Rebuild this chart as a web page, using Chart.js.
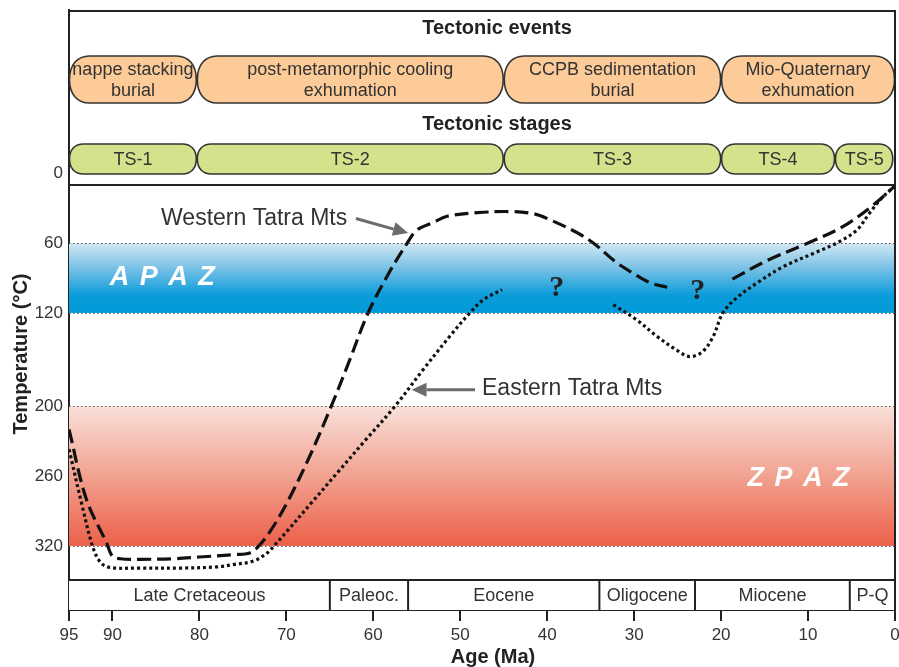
<!DOCTYPE html>
<html>
<head>
<meta charset="utf-8">
<script src="https://cdn.jsdelivr.net/npm/chart.js@4.4.1/dist/chart.umd.min.js"></script>
<style>
  html, body { margin: 0; padding: 0; background: #fff; }
  #wrap { width: 899px; height: 667px; position: relative; }
</style>
</head>
<body>
<div id="wrap"><canvas id="c" width="899" height="667"></canvas></div>
<script>
// ---------------- DATA ----------------
const xTicks = [95, 90, 80, 70, 60, 50, 40, 30, 20, 10, 0];
const yTicks = [0, 60, 120, 200, 260, 320];

// Western Tatra Mts (dashed) – [age Ma, temperature °C]
const westernEarly = [
  [95,220],[93,280],[90.7,317],[90,329],[89.1,331],[86.8,331.5],[83,331],[80,329.5],[76,327.5],[74.2,326],
  [73.3,321],[72,309],[70,284],[67.5,246],[65,203],[62.8,162],[60.6,120],[58.3,87],[56.1,60],
  [55,49],[53,42],[51.5,37],[48,34],[44.3,33],[41.5,35],[39.7,40],[36.6,51],[34.7,60],[32,77],
  [30.1,86],[28.2,94],[26.2,98]
];
const westernLate = [
  [18.7,91],[14.7,75],[10,60],[6,46],[2.6,28],[0,11]
];
// Eastern Tatra Mts (dotted)
const easternEarly = [
  [95,237],[93.5,285],[92.3,320],[91.4,334],[90.3,338.5],[87,339],[82,339],[78,338],[76.1,336],
  [73.8,333],[72.2,326],[71.3,319],[70,308],[67,282],[64,256],[61,230],[57.5,200],[54.3,169],[51.2,140],
  [48.9,120],[47.4,109],[45.2,100]
];
const easternLate = [
  [32.4,113],[29.7,126],[27.4,140],[25.1,152],[23.6,157.5],[22.1,153],[20.9,140],[19.8,120],
  [18.2,107],[15.9,94.5],[12.9,80.5],[9,67.7],[6.7,60],[4.4,49],[2.9,34],[1.4,20.5],[0,11]
];

// Partial annealing / retention zones [from, to] °C
const apazRange = [60, 120];
const zpazRange = [200, 320];

// Header rows
const eventLabels = [['nappe stacking','burial'],['post-metamorphic cooling','exhumation'],['CCPB sedimentation','burial'],['Mio-Quaternary','exhumation']];
const eventBounds = [95, 80.3, 45, 20, 0];
const stageLabels = ['TS-1','TS-2','TS-3','TS-4','TS-5'];
const stageBounds = [95, 80.3, 45, 20, 6.9, 0.2];
// Epochs
const epochLabels = ['Late Cretaceous','Paleoc.','Eocene','Oligocene','Miocene','P-Q'];
const epochBounds = [95, 65, 56, 34, 23, 5.2, 0];

// ---------------- DRAWING ----------------
const FONT = "'Liberation Sans', Arial, Helvetica, sans-serif";
const toPts = a => a.map(p => ({x: p[0], y: p[1]}));

function capsule(ctx, x0, x1, top, bot, rx) {
  const cy = (top + bot) / 2, k = 0.62;
  const ry = cy - top;
  ctx.beginPath();
  ctx.moveTo(x0 + rx, top);
  ctx.lineTo(x1 - rx, top);
  ctx.bezierCurveTo(x1 - rx + rx * k, top, x1, cy - ry * k, x1, cy);
  ctx.bezierCurveTo(x1, cy + ry * k, x1 - rx + rx * k, bot, x1 - rx, bot);
  ctx.lineTo(x0 + rx, bot);
  ctx.bezierCurveTo(x0 + rx - rx * k, bot, x0, cy + ry * k, x0, cy);
  ctx.bezierCurveTo(x0, cy - ry * k, x0 + rx - rx * k, top, x0 + rx, top);
  ctx.closePath();
}

function arrow(ctx, x0, y0, x1, y1) {
  const ang = Math.atan2(y1 - y0, x1 - x0);
  const hl = 15, hw = 7;
  const bx = x1 - hl * Math.cos(ang), by = y1 - hl * Math.sin(ang);
  ctx.save();
  ctx.strokeStyle = '#6b6b6b'; ctx.fillStyle = '#6b6b6b'; ctx.lineWidth = 3;
  ctx.beginPath(); ctx.moveTo(x0, y0); ctx.lineTo(bx, by); ctx.stroke();
  ctx.beginPath();
  ctx.moveTo(x1, y1);
  ctx.lineTo(bx + hw * Math.sin(ang), by - hw * Math.cos(ang));
  ctx.lineTo(bx - hw * Math.sin(ang), by + hw * Math.cos(ang));
  ctx.closePath(); ctx.fill();
  ctx.restore();
}

const decor = {
  id: 'decor',
  beforeDraw(chart) {
    const ctx = chart.ctx;
    ctx.save(); ctx.fillStyle = '#fff'; ctx.fillRect(0, 0, chart.width, chart.height); ctx.restore();
  },
  beforeDatasetsDraw(chart) {
    const {ctx, chartArea: ca, scales: {x, y}} = chart;
    ctx.save();
    // zones
    const bands = [
      {r: apazRange, stops: [[0,'#d3e8f3'],[0.35,'#7cc2e6'],[0.75,'#0a9cda'],[1,'#009ad8']]},
      {r: zpazRange, stops: [[0,'#f9e0da'],[0.5,'#f2a290'],[1,'#ec604a']]}
    ];
    bands.forEach(b => {
      const t = y.getPixelForValue(b.r[0]), bt = y.getPixelForValue(b.r[1]);
      const g = ctx.createLinearGradient(0, t, 0, bt);
      b.stops.forEach(s => g.addColorStop(s[0], s[1]));
      ctx.fillStyle = g;
      ctx.fillRect(ca.left, t, ca.right - ca.left, bt - t);
    });
    // dotted boundary lines
    ctx.strokeStyle = '#555'; ctx.lineWidth = 1.2; ctx.setLineDash([1.5, 2.5]);
    [apazRange[0], apazRange[1], zpazRange[0], zpazRange[1]].forEach(v => {
      const py = Math.round(y.getPixelForValue(v)) + 0.5;
      ctx.beginPath(); ctx.moveTo(ca.left, py); ctx.lineTo(ca.right, py); ctx.stroke();
    });
    ctx.setLineDash([]);
    // zone labels
    ctx.fillStyle = '#fff';
    ctx.font = 'italic bold 27px ' + FONT;
    ctx.textAlign = 'center'; ctx.textBaseline = 'middle';
    if ('letterSpacing' in ctx) ctx.letterSpacing = '1.5px';
    ctx.fillText('A P A Z', x.getPixelForValue(84.2), y.getPixelForValue(90));
    ctx.fillText('Z P A Z', x.getPixelForValue(11.0), y.getPixelForValue(262));
    if ('letterSpacing' in ctx) ctx.letterSpacing = '0px';

    // header region
    const top = ca.top;
    ctx.fillStyle = '#222';
    ctx.font = 'bold 20px ' + FONT;
    ctx.fillText('Tectonic events', 497, top + 18);
    ctx.fillText('Tectonic stages', 497, top + 114);
    // events
    ctx.lineWidth = 1.6; ctx.strokeStyle = '#333';
    for (let i = 0; i < eventLabels.length; i++) {
      const x0 = x.getPixelForValue(eventBounds[i]), x1 = x.getPixelForValue(eventBounds[i + 1]);
      capsule(ctx, x0 + 0.5, x1 - 0.5, top + 46, top + 93, 20);
      ctx.fillStyle = '#fccb98'; ctx.fill(); ctx.stroke();
      ctx.fillStyle = '#333'; ctx.font = '18px ' + FONT;
      ctx.fillText(eventLabels[i][0], (x0 + x1) / 2, top + 60);
      ctx.fillText(eventLabels[i][1], (x0 + x1) / 2, top + 81);
    }
    // stages
    for (let i = 0; i < stageLabels.length; i++) {
      const x0 = x.getPixelForValue(stageBounds[i]), x1 = x.getPixelForValue(stageBounds[i + 1]);
      capsule(ctx, x0 + 0.5, x1 - 0.5, top + 134, top + 164, 14);
      ctx.fillStyle = '#d3e38b'; ctx.fill(); ctx.stroke();
      ctx.fillStyle = '#333'; ctx.font = '18px ' + FONT;
      ctx.fillText(stageLabels[i], (x0 + x1) / 2, top + 150);
    }
    // divider line
    ctx.strokeStyle = '#222'; ctx.lineWidth = 2;
    ctx.beginPath(); ctx.moveTo(ca.left, top + 175); ctx.lineTo(ca.right, top + 175); ctx.stroke();
    ctx.restore();
  },
  afterDatasetsDraw(chart) {
    const {ctx, chartArea: ca, scales: {x, y}} = chart;
    ctx.save();
    // epoch band
    const eTop = ca.bottom - 30;
    ctx.fillStyle = '#fff';
    ctx.fillRect(ca.left, eTop, ca.right - ca.left, 30);
    ctx.strokeStyle = '#222'; ctx.lineWidth = 2;
    ctx.beginPath(); ctx.moveTo(ca.left, eTop); ctx.lineTo(ca.right, eTop); ctx.stroke();
    ctx.fillStyle = '#333'; ctx.font = '18px ' + FONT; ctx.textAlign = 'center'; ctx.textBaseline = 'middle';
    for (let i = 0; i < epochLabels.length; i++) {
      const x0 = x.getPixelForValue(epochBounds[i]), x1 = x.getPixelForValue(epochBounds[i + 1]);
      if (i > 0) { ctx.beginPath(); ctx.moveTo(x0, eTop); ctx.lineTo(x0, ca.bottom); ctx.stroke(); }
      ctx.fillText(epochLabels[i], (x0 + x1) / 2, eTop + 16);
    }
    // frame
    ctx.beginPath();
    ctx.moveTo(ca.left, ca.top + 1); ctx.lineTo(ca.right, ca.top + 1); ctx.lineTo(ca.right, ca.bottom);
    ctx.stroke();
    // annotations
    ctx.fillStyle = '#333'; ctx.font = '23px ' + FONT; ctx.textBaseline = 'middle';
    ctx.textAlign = 'right';
    ctx.fillText('Western Tatra Mts', x.getPixelForValue(63.0), y.getPixelForValue(39));
    arrow(ctx, x.getPixelForValue(62.0), y.getPixelForValue(39), x.getPixelForValue(56.0), y.getPixelForValue(51.5));
    ctx.textAlign = 'left';
    ctx.fillText('Eastern Tatra Mts', x.getPixelForValue(47.5), y.getPixelForValue(185));
    arrow(ctx, x.getPixelForValue(48.3), y.getPixelForValue(186), x.getPixelForValue(55.6), y.getPixelForValue(186));
    // question marks
    ctx.fillStyle = '#222'; ctx.font = "bold 30px 'Liberation Serif', 'Times New Roman', serif"; ctx.textAlign = 'center';
    ctx.fillText('?', x.getPixelForValue(38.9), y.getPixelForValue(99));
    ctx.fillText('?', x.getPixelForValue(22.7), y.getPixelForValue(101));
    // axis titles
    ctx.fillStyle = '#222'; ctx.font = 'bold 20px ' + FONT;
    ctx.fillText('Age (Ma)', 493, 657);
    ctx.translate(21, 354); ctx.rotate(-Math.PI / 2);
    ctx.fillText('Temperature (°C)', 0, 0);
    ctx.restore();
  }
};

const lineStyle = (dash) => ({
  borderColor: '#111', borderWidth: 3.2, borderDash: dash, pointRadius: 0, tension: 0.35,
  fill: false, showLine: true, borderCapStyle: 'butt'
});

new Chart(document.getElementById('c'), {
  type: 'line',
  data: {
    datasets: [
      Object.assign({label: 'Western Tatra Mts', data: toPts(westernEarly)}, lineStyle([14, 6])),
      Object.assign({label: 'Western Tatra Mts ', data: toPts(westernLate)}, lineStyle([14, 6])),
      Object.assign({label: 'Eastern Tatra Mts', data: toPts(easternEarly)}, lineStyle([3, 3])),
      Object.assign({label: 'Eastern Tatra Mts ', data: toPts(easternLate)}, lineStyle([3, 3]))
    ]
  },
  options: {
    responsive: false, animation: false, devicePixelRatio: 1,
    layout: {padding: {top: 10, right: 4, left: 0, bottom: 0}},
    plugins: {legend: {display: false}, tooltip: {enabled: false}},
    scales: {
      x: {
        type: 'linear', reverse: true, min: 0, max: 95, position: 'bottom',
        afterFit: s => { s.height = 57; s.paddingLeft = 0; s.paddingRight = 0; },
        afterBuildTicks: s => { s.ticks = xTicks.map(v => ({value: v})); },
        ticks: {font: {family: FONT, size: 17}, color: '#333', padding: 4, maxRotation: 0, autoSkip: false},
        grid: {drawOnChartArea: false, drawTicks: true, tickLength: 11, color: '#222', lineWidth: 2},
        border: {display: true, color: '#222', width: 2}
      },
      y: {
        type: 'linear', reverse: true, min: -140, max: 375, position: 'left',
        afterFit: s => { s.width = 69; s.paddingTop = 0; s.paddingBottom = 0; },
        afterBuildTicks: s => { s.ticks = yTicks.map(v => ({value: v})); },
        ticks: {font: {family: FONT, size: 17}, color: '#333', padding: 6, autoSkip: false},
        grid: {display: false, drawTicks: false},
        border: {display: true, color: '#222', width: 2}
      }
    }
  },
  plugins: [decor]
});
</script>
</body>
</html>
